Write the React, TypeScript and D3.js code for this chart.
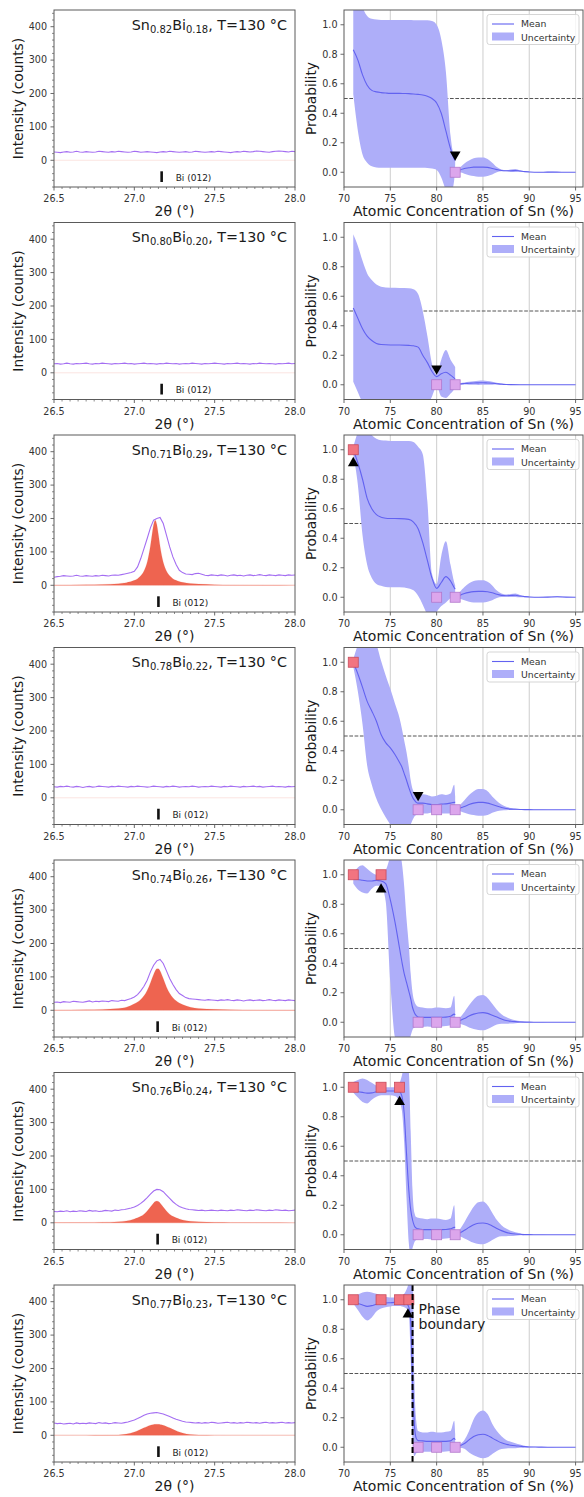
import React from 'react';
import * as d3 from 'd3';

const W = 584;
const H = 1497;
const FONT = "'DejaVu Sans', sans-serif";

// ---------- labels ----------
const snFrac = ['0.82', '0.80', '0.71', '0.78', '0.74', '0.76', '0.77'];
const biFrac = ['0.18', '0.20', '0.29', '0.22', '0.26', '0.24', '0.23'];
const tempLabel = ', T=130 °C';
const refLabel = 'Bi (012)';

// ---------- XRD panels ----------
const twoThetaDomain = [26.5, 28.0];
const intensityDomain = [-80, 450];
const twoThetaTicks = [26.5, 27.0, 27.5, 28.0];
const intensityTicks = [0, 100, 200, 300, 400];

// measured intensity, evenly sampled over 26.5..28.0
const xrd1 = [25,24,23,25,26,24,25,27,25,24, 26,25,24,25,27,26,25,24,26,25, 27,26,25,24,25,27,26,24,25,26, 25,24,23,25,26,25,27,26,25,24, 25,26,24,25,27,26,25,24,25,26, 25,27,26,25,24,23,25,26,25,27, 26,25,26,28,27,26,25,24,26,27, 28,27,26,25,27,26];
const xrd2 = [27,28,26,27,29,27,26,28,27,28, 29,27,26,28,27,29,28,27,26,28, 27,28,29,27,28,26,27,28,29,27, 28,27,26,28,27,29,28,27,28,26, 27,28,27,29,28,27,26,28,27,28, 29,28,27,26,28,27,28,29,27,28, 27,26,28,27,29,28,27,28,27,26, 28,27,28,29,27,28];
const xrd3 = [24,26,27,29,28,27,28,30,28,27, 29,28,27,29,28,30,29,28,30,31, 30,32,34,36,38,42,55,80,110,140, 172,195,200,203,185,150,115,85,62,45, 38,34,33,32,35,36,33,30,29,31, 30,29,31,30,28,30,31,29,30,28, 30,31,29,30,32,30,29,31,30,29, 31,30,29,31,30,31];
const xrd4 = [33,32,34,33,35,33,32,34,33,31, 33,34,32,33,35,34,33,32,34,33, 35,34,33,32,34,33,35,34,33,32, 33,35,34,33,32,34,33,35,34,32, 33,34,33,35,34,32,33,34,33,35, 34,33,32,34,33,35,34,33,32,34, 33,34,35,33,34,32,33,34,35,33, 34,33,32,34,33,34];
const xrd5 = [24,25,23,26,25,24,27,26,25,24, 26,28,25,27,26,28,27,26,29,28, 27,30,29,32,35,40,47,58,72,90, 115,135,148,152,140,118,95,77,62,50, 44,38,35,34,33,32,31,30,32,31, 30,29,31,30,32,30,29,31,30,28, 30,31,29,30,31,29,30,32,30,29, 31,30,29,31,30,29];
const xrd6 = [34,33,35,34,36,33,35,34,36,35, 34,37,35,36,34,35,37,36,35,38, 37,39,40,42,44,47,52,58,66,75, 86,95,100,99,93,83,73,63,55,49, 45,42,40,39,38,37,38,36,37,38, 37,36,38,37,36,38,37,39,38,37, 36,38,37,39,38,37,36,38,37,39, 38,37,38,36,37,38];
const xrd7 = [37,35,36,34,35,36,34,37,35,36, 35,37,36,35,38,36,37,35,36,38, 37,36,38,40,43,46,50,55,60,64, 66,67,68,66,64,60,56,52,48,45, 42,40,39,38,37,38,36,38,37,39, 38,36,37,38,39,37,38,36,38,37, 39,38,37,38,36,38,39,37,38,37, 38,39,37,38,37,38];
const xrdRows = [xrd1, xrd2, xrd3, xrd4, xrd5, xrd6, xrd7];

const biRefPos = [27.17, 27.17, 27.15, 27.15, 27.145, 27.145, 27.15];

// fitted Bi (012) peak profile
const fitX = [26.5, 26.7, 26.8, 26.9, 26.95, 27.0, 27.02, 27.04, 27.06, 27.08, 27.1, 27.11, 27.12, 27.13, 27.14, 27.15, 27.16, 27.17, 27.18, 27.2, 27.22, 27.24, 27.26, 27.28, 27.3, 27.35, 27.4, 27.5, 27.6, 27.8, 28.0];
const fit3 = [0.7,1.4,2.4,4.9,7.9,14.7,19.8,28.2,42.6,68.9,117.7,151,181.7,195,181.7,151,117.7,89.9,68.9,42.6,28.2,19.8,14.7,11.2,8.8,5.4,3.6,1.9,1.2,0.6,0.35];
const fit5 = [0.8,1.6,2.7,5.5,9,19.3,24.7,32.3,43.4,59.5,81.9,94.8,107.5,118.1,124.2,124.2,118.1,107.5,94.8,69.9,50.8,37.3,28.2,21.8,17.2,9,5.5,2.8,1.6,0.8,0.5];
const fit6 = [0.5,1.0,1.7,3.4,5.6,11.5,14.7,19.3,25.8,35.1,47.1,53.6,59.4,63.5,65,63.5,59.4,53.6,47.1,35.1,25.8,19.3,14.7,11.5,8.5,4.6,2.9,1.5,0.9,0.5,0.3];
const fit7 = [0.2,0.3,0.5,1.0,3.6,9.8,13.6,17.8,22.2,26.4,29.9,31.2,32.2,32.8,33,32.8,32.2,31.2,29.9,26.4,22.2,17.8,13.6,9.8,6.8,2.2,0.9,0.4,0.3,0.2,0.2];
const fitRows = [null, null, fit3, null, fit5, fit6, fit7];

// ---------- probability panels ----------
const concDomain = [70, 95.8];
const probDomain = [-0.1, 1.1];
const concTicks = [70, 75, 80, 85, 90, 95];
const probTicks = [0, 0.2, 0.4, 0.6, 0.8, 1.0];
const gridTicks = [75, 80, 85, 90, 95];

// [x, lower, mean, upper]
const gp1A = [[71,.53,.83,1.4],[71.5,.28,.76,1.25],[72,.12,.66,1.12],[72.5,.065,.59,1.06],[73,.04,.555,1.04],[73.5,.032,.545,1.035],[74,.03,.54,1.032],[74.5,.03,.537,1.032],[75,.03,.535,1.032],[75.5,.03,.535,1.032],[76,.03,.535,1.032],[76.5,.03,.534,1.032],[77,.03,.533,1.032],[77.5,.03,.531,1.031],[78,.03,.528,1.03],[78.5,.03,.524,1.03],[79,.028,.515,1.03],[79.5,.025,.5,1.025],[80,.015,.47,1.0],[80.5,-.035,.4,.9],[81,-.12,.28,.68],[81.5,-.15,.16,.25],[81.9,-.05,.09,.1],[82,.05,.08,.08]];
const gp1B = [[82.15,0,0,0],[82.5,0,.015,.03],[83,-.01,.025,.06],[83.5,-.02,.03,.08],[84,-.025,.035,.095],[84.5,-.03,.035,.1],[85,-.03,.035,.1],[85.5,-.025,.033,.09],[86,-.015,.025,.065],[86.5,0,.018,.035],[87,.006,.012,.018],[87.5,.006,.01,.014],[88,.002,.01,.018],[88.5,.002,.012,.022],[89,.003,.008,.013],[89.5,.002,.004,.006],[90,.001,.002,.003],[91,0,0,.001],[92,-.001,.001,.003],[93,0,.001,.002],[94,0,0,0],[95,0,0,0]];
const gp2A = [[71,.02,.52,1.02],[71.5,-.05,.45,.94],[72,-.12,.38,.84],[72.5,-.15,.33,.755],[73,-.16,.3,.71],[73.5,-.16,.28,.68],[74,-.16,.273,.665],[75,-.16,.27,.657],[76,-.16,.27,.656],[77,-.16,.267,.655],[77.5,-.16,.264,.648],[78,-.16,.255,.615],[78.5,-.16,.2,.5],[79,-.14,.15,.33],[79.5,-.08,.09,.14],[80,-.01,.055,.07],[80.5,-.08,.075,.17],[81,-.09,.085,.235],[81.5,-.06,.065,.17],[81.9,-.03,.045,.13],[82,-.02,.04,.12]];
const gp2B = [[82.15,0,0,0],[82.5,0,.005,.01],[83,.001,.008,.015],[83.5,0,.01,.02],[84,0,.012,.024],[84.5,-.001,.013,.027],[85,0,.014,.028],[85.5,0,.012,.025],[86,0,.01,.02],[86.5,.001,.007,.013],[87,.001,.004,.007],[87.5,0,.002,.004],[88,0,.001,.002],[89,0,0,.001],[90,0,0,0],[95,0,0,0]];
const gp3A = [[71,.97,1.0,1.02],[71.5,.76,.91,1.12],[72,.42,.8,1.18],[72.5,.22,.67,1.15],[73,.13,.6,1.1],[73.5,.09,.56,1.075],[74,.078,.543,1.065],[74.5,.07,.536,1.062],[75,.068,.534,1.06],[76,.068,.533,1.06],[77,.06,.528,1.06],[77.5,.047,.51,1.052],[78,.01,.465,1.02],[78.5,-.05,.37,.97],[79,-.12,.25,.65],[79.5,-.16,.13,.16],[80,-.1,.06,.09],[80.5,-.06,.1,.28],[81,-.035,.14,.38],[81.5,-.005,.11,.22],[81.9,.015,.065,.1],[82,.02,.055,.08]];
const gp3B = [[82.15,0,0,0],[82.5,-.01,.012,.035],[83,-.02,.025,.07],[83.5,-.03,.033,.095],[84,-.035,.038,.11],[84.5,-.035,.04,.115],[85,-.035,.04,.115],[85.5,-.03,.037,.105],[86,-.02,.03,.08],[86.5,-.005,.02,.045],[87,.002,.013,.025],[87.5,.003,.01,.018],[88,.002,.012,.022],[88.5,.002,.014,.026],[89,0,.008,.016],[89.5,0,.004,.008],[90,0,.002,.004],[91,0,0,.001],[92,0,.001,.003],[93,0,.003,.006],[94,0,.001,.002],[95,0,0,0]];
const gp4A = [[71,.97,1.0,1.02],[71.5,.8,.92,1.12],[72,.58,.83,1.2],[72.5,.3,.735,1.2],[73,.17,.67,1.17],[73.5,.075,.6,1.12],[74,.005,.51,1.01],[74.5,-.05,.455,.91],[75,-.1,.42,.82],[75.5,-.14,.375,.72],[76,-.16,.32,.62],[76.25,-.16,.29,.55],[76.5,-.15,.245,.47],[76.75,-.14,.2,.39],[77,-.12,.15,.29],[77.2,-.1,.115,.2],[77.4,-.07,.085,.14],[77.6,-.045,.065,.115],[77.8,-.035,.05,.105],[78,-.03,.045,.1],[78.5,-.025,.045,.105],[79,-.025,.04,.1],[79.5,-.02,.035,.09],[80,-.03,.035,.095],[80.5,-.025,.038,.105],[81,-.025,.04,.1],[81.5,-.025,.045,.11],[81.9,-.02,.05,.17],[82,.01,.05,.09]];
const gp4B = [[82.15,0,0,0],[82.5,-.008,.01,.03],[83,-.02,.022,.065],[83.5,-.03,.035,.1],[84,-.035,.045,.125],[84.5,-.04,.05,.14],[85,-.04,.05,.14],[85.5,-.035,.045,.125],[86,-.02,.035,.09],[86.5,-.01,.025,.06],[87,-.005,.015,.035],[87.5,-.003,.008,.02],[88,-.002,.004,.012],[88.5,-.001,.003,.008],[89,0,.002,.005],[89.5,0,.001,.003],[90,0,.001,.002],[91,0,0,.001],[92,0,0,0],[95,0,0,0]];
const gp5A = [[71,.94,.975,1.01],[71.5,.9,.968,1.05],[72,.88,.963,1.065],[72.5,.873,.958,1.04],[73,.905,.958,1.015],[73.5,.925,.962,1.0],[74,.925,.958,1.0],[74.5,.82,.94,1.03],[75,.27,.83,1.12],[75.5,-.1,.68,1.18],[76,-.16,.5,1.15],[76.25,-.17,.41,1.08],[76.5,-.17,.33,.92],[76.75,-.16,.27,.7],[77,-.13,.21,.52],[77.2,-.09,.16,.33],[77.4,-.05,.1,.2],[77.6,-.035,.065,.14],[77.8,-.03,.045,.115],[78,-.03,.036,.105],[78.5,-.03,.033,.1],[79,-.028,.033,.095],[79.5,-.03,.033,.095],[80,-.03,.033,.1],[80.5,-.028,.034,.098],[81,-.025,.035,.095],[81.5,-.02,.04,.1],[81.9,-.01,.055,.18],[82,.02,.05,.08]];
const gp5B = [[82.15,0,0,0],[82.5,-.01,.01,.03],[83,-.02,.025,.07],[83.5,-.035,.042,.115],[84,-.045,.055,.155],[84.5,-.052,.063,.18],[85,-.055,.065,.185],[85.5,-.045,.06,.165],[86,-.03,.048,.125],[86.5,-.015,.035,.085],[87,-.01,.022,.055],[87.5,-.01,.012,.035],[88,-.008,.007,.022],[88.5,-.006,.004,.014],[89,-.004,.002,.008],[89.5,-.002,.001,.004],[90,-.001,.001,.002],[91,0,0,.001],[92,0,0,0],[95,0,0,0]];
const gp6A = [[71,.965,.975,1.035],[71.5,.93,.97,1.05],[72,.9,.965,1.06],[72.5,.89,.96,1.05],[73,.915,.962,1.03],[73.5,.935,.97,1.01],[74,.945,.975,1.0],[74.5,.945,.975,1.0],[75,.945,.975,1.0],[75.5,.94,.975,1.0],[76,.9,.97,1.03],[76.25,.84,.94,1.08],[76.5,.62,.82,1.15],[76.75,.25,.55,1.15],[77,-.06,.3,1.1],[77.2,-.14,.17,.7],[77.4,-.09,.1,.3],[77.6,-.05,.06,.15],[77.8,-.035,.045,.12],[78,-.03,.04,.115],[78.5,-.028,.035,.11],[79,-.028,.035,.105],[79.5,-.03,.035,.11],[80,-.03,.035,.11],[80.5,-.028,.035,.105],[81,-.025,.036,.1],[81.5,-.02,.04,.11],[81.9,-.01,.05,.2],[82,.02,.05,.09]];
const gp6B = [[82.15,0,0,0],[82.5,-.01,.012,.035],[83,-.025,.03,.085],[83.5,-.04,.05,.14],[84,-.055,.068,.19],[84.5,-.062,.078,.22],[85,-.065,.08,.225],[85.5,-.055,.074,.2],[86,-.035,.06,.15],[86.5,-.018,.043,.1],[87,-.01,.028,.065],[87.5,-.01,.016,.042],[88,-.009,.009,.027],[88.5,-.007,.005,.017],[89,-.004,.003,.01],[89.5,-.002,.001,.005],[90,-.001,.001,.003],[91,0,0,.001],[92,0,0,0],[95,0,0,0]];
const gp7A = [[71,.975,.985,1.02],[71.5,.93,.975,1.035],[72,.885,.965,1.05],[72.5,.86,.955,1.055],[73,.88,.96,1.05],[73.5,.92,.97,1.04],[74,.94,.975,1.03],[74.5,.95,.978,1.02],[75,.955,.98,1.015],[75.5,.957,.982,1.015],[76,.957,.985,1.02],[76.25,.955,.985,1.025],[76.5,.95,.983,1.04],[76.75,.94,.975,1.07],[77,.9,.95,1.12],[77.2,.6,.85,1.2],[77.4,.05,.45,1.2],[77.6,-.06,.15,.45],[77.8,-.04,.06,.18],[78,-.035,.045,.11],[78.5,-.03,.043,.1],[79,-.03,.04,.1],[79.5,-.03,.04,.105],[80,-.03,.04,.1],[80.5,-.03,.04,.1],[81,-.028,.04,.105],[81.5,-.025,.043,.11],[81.9,-.015,.06,.18],[82,.02,.05,.09]];
const gp7B = [[82.15,0,0,0],[82.5,-.003,.01,.02],[83,-.01,.025,.05],[83.5,-.035,.05,.11],[84,-.055,.073,.19],[84.5,-.068,.085,.235],[85,-.075,.088,.25],[85.5,-.068,.08,.225],[86,-.045,.062,.16],[86.5,-.025,.045,.11],[87,-.012,.03,.075],[87.5,-.008,.02,.05],[88,-.007,.014,.037],[88.5,-.006,.01,.027],[89,-.004,.007,.018],[89.5,-.002,.004,.01],[90,-.001,.002,.005],[91,0,.001,.002],[92,0,0,.001],[93,0,0,0],[95,0,0,0]];
const gpRows = [[gp1A, gp1B], [gp2A, gp2B], [gp3A, gp3B], [gp4A, gp4B], [gp5A, gp5B], [gp6A, gp6B], [gp7A, gp7B]];

// measured compositions: Bi (012) present (1) / absent (0)
const obsPresent = [[], [], [71], [71], [71, 74], [71, 74, 76], [71, 74, 76, 77]];
const obsAbsent = [[82], [80, 82], [80, 82], [78, 80, 82], [78, 80, 82], [78, 80, 82], [78, 80, 82]];
// current measurement marker
const markX = [82, 80, 71, 78, 74, 76, 76.9];
const markY = [0.12, 0.11, 0.91, 0.1, 0.9, 0.9, 0.9];
const markDir = ['down', 'down', 'up', 'down', 'up', 'up', 'up'];
const phaseBoundaryX = 77.4;
const phaseBoundaryRow = 6;

// ---------- layout ----------
const ROW0 = 10;
const ROW_STEP = 212.5;
const PH = 177;
const LX0 = 54, LX1 = 295;
const RX0 = 344, RX1 = 583;

const C = {
  spine: '#5a5a5a',
  tick: '#333',
  label: '#1a1a1a',
  xrd: '#a46ef2',
  fit: '#ee6450',
  fitBase: '#fbe2de',
  band: '#aeaef9',
  mean: '#6262f0',
  grid: '#d2d2d2',
  present: '#f27480',
  presentEdge: '#c84c5c',
  absent: '#dca6ec',
  absentEdge: '#b278cc',
};

function LeftPanel({ i }: { i: number }) {
  const top = ROW0 + i * ROW_STEP;
  const bottom = top + PH;
  const x = d3.scaleLinear().domain(twoThetaDomain).range([LX0, LX1]);
  const y = d3.scaleLinear().domain(intensityDomain).range([bottom, top]);
  const vals = xrdRows[i];
  const step = (twoThetaDomain[1] - twoThetaDomain[0]) / (vals.length - 1);
  const line = d3.line<number>().x((_, k) => x(twoThetaDomain[0] + k * step)).y((d) => y(d));
  const fit = fitRows[i];
  const area = fit
    ? d3.area<number>().x((_, k) => x(fitX[k])).y0(y(0)).y1((d) => y(d)).curve(d3.curveMonotoneX)(fit)
    : null;
  const minorX = d3.range(0, 31).filter((k) => k % 10 !== 0).map((k) => 26.5 + k * 0.05);
  const minorY = d3.range(-80, 451, 20).filter((v) => v % 100 !== 0);
  const clipId = `clipL${i}`;
  const bx = x(biRefPos[i]);
  return (
    <g>
      <defs>
        <clipPath id={clipId}>
          <rect x={LX0} y={top} width={LX1 - LX0} height={PH} />
        </clipPath>
      </defs>
      <g clipPath={`url(#${clipId})`}>
        <line x1={LX0} x2={LX1} y1={y(0)} y2={y(0)} stroke={C.fitBase} strokeWidth={0.9} />
        {area && <path d={area} fill={C.fit} stroke={C.fit} strokeOpacity={0.3} strokeWidth={0.5} />}
        <path d={line(vals) || ''} fill="none" stroke={C.xrd} strokeWidth={1.1} />
        <line x1={bx} x2={bx} y1={y(-33)} y2={y(-65)} stroke="#111" strokeWidth={2.6} />
        <text x={bx + 14} y={y(-51) + 3.3} fontSize={9} fill="#222" fontFamily={FONT}>{refLabel}</text>
      </g>
      <text x={LX1 - 8} y={top + 19.5} textAnchor="end" fontSize={14.3} fill={C.label} fontFamily={FONT}>
        <tspan>Sn</tspan>
        <tspan dy={3.2} fontSize={10}>{snFrac[i]}</tspan>
        <tspan dy={-3.2}>Bi</tspan>
        <tspan dy={3.2} fontSize={10}>{biFrac[i]}</tspan>
        <tspan dy={-3.2}>{tempLabel}</tspan>
      </text>
      {minorX.map((v) => (
        <line key={'mx' + v} x1={x(v)} x2={x(v)} y1={bottom} y2={bottom + 2} stroke={C.spine} strokeWidth={0.7} />
      ))}
      {minorY.map((v) => (
        <line key={'my' + v} x1={LX0 - 2} x2={LX0} y1={y(v)} y2={y(v)} stroke={C.spine} strokeWidth={0.7} />
      ))}
      {twoThetaTicks.map((v) => (
        <g key={'tx' + v}>
          <line x1={x(v)} x2={x(v)} y1={bottom} y2={bottom + 3.5} stroke={C.spine} strokeWidth={0.9} />
          <text x={x(v)} y={bottom + 15} textAnchor="middle" fontSize={9.6} fill={C.tick} fontFamily={FONT}>
            {d3.format('.1f')(v)}
          </text>
        </g>
      ))}
      {intensityTicks.map((v) => (
        <g key={'ty' + v}>
          <line x1={LX0 - 3.5} x2={LX0} y1={y(v)} y2={y(v)} stroke={C.spine} strokeWidth={0.9} />
          <text x={LX0 - 7} y={y(v) + 3.4} textAnchor="end" fontSize={9.6} fill={C.tick} fontFamily={FONT}>
            {v}
          </text>
        </g>
      ))}
      <rect x={LX0} y={top} width={LX1 - LX0} height={PH} fill="none" stroke={C.spine} strokeWidth={1} />
      <text x={(LX0 + LX1) / 2} y={bottom + 29} textAnchor="middle" fontSize={14} fill={C.label} fontFamily={FONT}>
        2θ (°)
      </text>
      <text
        transform={`translate(22.5,${(top + bottom) / 2}) rotate(-90)`}
        textAnchor="middle"
        fontSize={13.8}
        fill={C.label}
        fontFamily={FONT}
      >
        Intensity (counts)
      </text>
    </g>
  );
}

function RightPanel({ i }: { i: number }) {
  const top = ROW0 + i * ROW_STEP;
  const bottom = top + PH;
  const x = d3.scaleLinear().domain(concDomain).range([RX0, RX1]);
  const y = d3.scaleLinear().domain(probDomain).range([bottom, top]);
  const band = d3
    .area<number[]>()
    .x((d) => x(d[0]))
    .y0((d) => y(d[1]))
    .y1((d) => y(d[3]))
    .curve(d3.curveMonotoneX);
  const mean = d3
    .line<number[]>()
    .x((d) => x(d[0]))
    .y((d) => y(d[2]))
    .curve(d3.curveMonotoneX);
  const segs = gpRows[i];
  const clipId = `clipR${i}`;
  const tri = d3.symbol(d3.symbolTriangle, 50)() || '';
  const lgX = RX1 - 96;
  const lgY = top + 4.5;
  return (
    <g>
      <defs>
        <clipPath id={clipId}>
          <rect x={RX0} y={top} width={RX1 - RX0} height={PH} />
        </clipPath>
      </defs>
      <g clipPath={`url(#${clipId})`}>
        {gridTicks.map((v) => (
          <line key={'g' + v} x1={x(v)} x2={x(v)} y1={top} y2={bottom} stroke={C.grid} strokeWidth={1.1} />
        ))}
        <line x1={RX0} x2={RX1} y1={y(0.5)} y2={y(0.5)} stroke="#555" strokeWidth={1} strokeDasharray="3.7,1.6" />
        {segs.map((s, k) => (
          <path key={'b' + k} d={band(s) || ''} fill={C.band} />
        ))}
        {segs.map((s, k) => (
          <path key={'m' + k} d={mean(s) || ''} fill="none" stroke={C.mean} strokeWidth={1.1} />
        ))}
        {obsPresent[i].map((v) => (
          <rect key={'p' + v} x={x(v) - 5} y={y(1) - 5} width={10} height={10} fill={C.present} stroke={C.presentEdge} strokeWidth={0.8} />
        ))}
        {obsAbsent[i].map((v) => (
          <rect key={'a' + v} x={x(v) - 5} y={y(0) - 5} width={10} height={10} fill={C.absent} stroke={C.absentEdge} strokeWidth={0.8} />
        ))}
        <path
          d={tri}
          fill="#000"
          transform={`translate(${x(markX[i])},${y(markY[i])}) rotate(${markDir[i] === 'down' ? 180 : 0})`}
        />
        {i === phaseBoundaryRow && (
          <line
            x1={x(phaseBoundaryX)}
            x2={x(phaseBoundaryX)}
            y1={top}
            y2={bottom}
            stroke="#000"
            strokeWidth={2}
            strokeDasharray="6,3"
          />
        )}
      </g>
      {i === phaseBoundaryRow && (
        <text fontSize={14} fill={C.label} fontFamily={FONT}>
          <tspan x={x(phaseBoundaryX) + 6} y={top + 29}>Phase</tspan>
          <tspan x={x(phaseBoundaryX) + 6} y={top + 44}>boundary</tspan>
        </text>
      )}
      <rect x={lgX} y={lgY} width={92} height={30} rx={2.5} fill="#fff" fillOpacity={0.8} stroke="#d0d0d0" strokeWidth={0.9} />
      <line x1={lgX + 5} x2={lgX + 27} y1={lgY + 9.5} y2={lgY + 9.5} stroke={C.mean} strokeWidth={1.1} />
      <rect x={lgX + 5} y={lgY + 18} width={22} height={8} fill={C.band} />
      <text x={lgX + 34} y={lgY + 12.8} fontSize={9.3} fill={C.tick} fontFamily={FONT}>Mean</text>
      <text x={lgX + 34} y={lgY + 26} fontSize={9.3} fill={C.tick} fontFamily={FONT}>Uncertainty</text>
      {concTicks.map((v) => (
        <g key={'tx' + v}>
          <line x1={x(v)} x2={x(v)} y1={bottom} y2={bottom + 3.5} stroke={C.spine} strokeWidth={0.9} />
          <text x={x(v)} y={bottom + 15} textAnchor="middle" fontSize={9.6} fill={C.tick} fontFamily={FONT}>
            {v}
          </text>
        </g>
      ))}
      {probTicks.map((v) => (
        <g key={'ty' + v}>
          <line x1={RX0 - 3.5} x2={RX0} y1={y(v)} y2={y(v)} stroke={C.spine} strokeWidth={0.9} />
          <text x={RX0 - 6.5} y={y(v) + 3.4} textAnchor="end" fontSize={9.6} fill={C.tick} fontFamily={FONT}>
            {d3.format('.1f')(v)}
          </text>
        </g>
      ))}
      <rect x={RX0} y={top} width={RX1 - RX0} height={PH} fill="none" stroke={C.spine} strokeWidth={1} />
      <text x={(RX0 + RX1) / 2} y={bottom + 29} textAnchor="middle" fontSize={14} fill={C.label} fontFamily={FONT}>
        Atomic Concentration of Sn (%)
      </text>
      <text
        transform={`translate(316,${(top + bottom) / 2}) rotate(-90)`}
        textAnchor="middle"
        fontSize={13.8}
        fill={C.label}
        fontFamily={FONT}
      >
        Probability
      </text>
    </g>
  );
}

export default function App() {
  const rows = d3.range(7);
  return (
    <svg
      width={W}
      height={H}
      viewBox={`0 0 ${W} ${H}`}
      style={{ position: 'absolute', left: 0, top: 0, background: '#fff' }}
    >
      <rect x={0} y={0} width={W} height={H} fill="#fff" />
      {rows.map((i) => (
        <g key={i}>
          <LeftPanel i={i} />
          <RightPanel i={i} />
        </g>
      ))}
    </svg>
  );
}
